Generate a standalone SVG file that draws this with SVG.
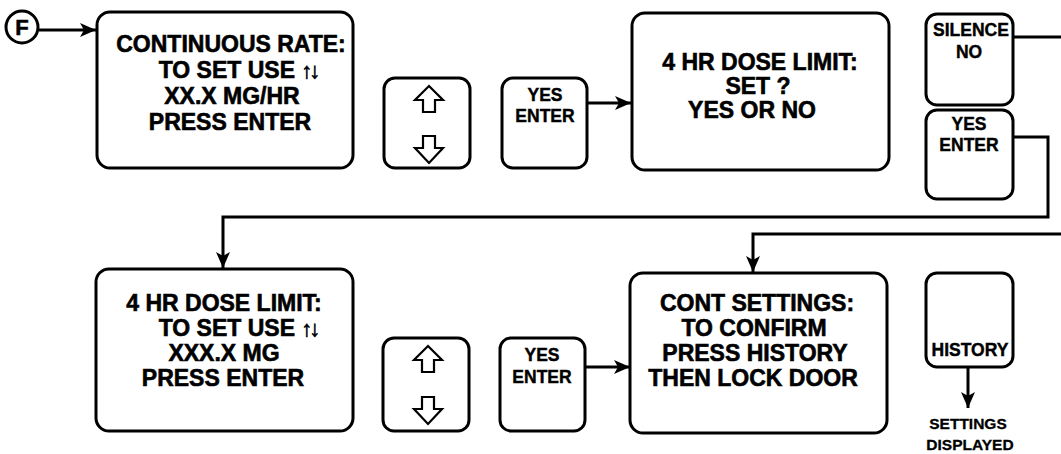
<svg xmlns="http://www.w3.org/2000/svg" width="1061" height="454" viewBox="0 0 1061 454">
<style>
.box{fill:none;stroke:#000;stroke-width:3}
.ln{fill:none;stroke:#000;stroke-width:3}
.t{font-family:"Liberation Sans",Arial,sans-serif;font-weight:bold;font-size:23px;fill:#000;stroke:#000;stroke-width:0.6;text-anchor:middle}
.b{font-family:"Liberation Sans",Arial,sans-serif;font-weight:bold;font-size:17.5px;fill:#000;stroke:#000;stroke-width:0.4;text-anchor:middle}
.s{font-family:"Liberation Sans",Arial,sans-serif;font-weight:bold;font-size:15.5px;fill:#000;stroke:#000;stroke-width:0.3;text-anchor:middle}
.ar{font-size:22px;letter-spacing:-3px}
.key{fill:#fff;stroke:#000;stroke-width:2.2}
</style>
<defs>
<marker id="ah" viewBox="0 0 16 14" refX="16" refY="7" markerWidth="16" markerHeight="14" markerUnits="userSpaceOnUse" orient="auto">
<path d="M0,0 L16,7 L0,14 L4,7 Z" fill="#000"/>
</marker>
</defs>
<rect width="1061" height="454" fill="#fff"/>

<g id="start">
<circle cx="22" cy="27" r="16" fill="none" stroke="#000" stroke-width="3"/>
<text class="t" x="22" y="35" style="font-size:22px">F</text>
</g>

<g id="connectors">
<line class="ln" x1="39" y1="30" x2="96" y2="30" marker-end="url(#ah)"/>
<line class="ln" x1="587" y1="103" x2="631" y2="103" marker-end="url(#ah)"/>
<line class="ln" x1="1013" y1="37" x2="1061" y2="37"/>
<polyline class="ln" points="1013,137 1048,137 1048,217 223,217 223,268" marker-end="url(#ah)"/>
<polyline class="ln" points="1061,234 753,234 753,272" marker-end="url(#ah)"/>
<line class="ln" x1="585" y1="367" x2="630" y2="367" marker-end="url(#ah)"/>
<line class="ln" x1="968" y1="367" x2="968" y2="408" marker-end="url(#ah)"/>
</g>

<g id="cont-rate">
<rect class="box" x="97" y="12" width="256" height="156" rx="13"/>
<text class="t" x="231" y="52">CONTINUOUS RATE:</text>
<text class="t" x="238" y="78">TO SET USE <tspan class="ar">↑↓</tspan></text>
<text class="t" x="232" y="104">XX.X MG/HR</text>
<text class="t" x="230" y="130">PRESS ENTER</text>
</g>

<g id="updown-1">
<rect class="box" x="384" y="78" width="86" height="90" rx="11"/>
<path class="key" d="M429,86 L443,100 L435,100 L435,112 L423,112 L423,100 L415,100 Z"/>
<path class="key" d="M423,136 L435,136 L435,148 L443,148 L429,163 L415,148 L423,148 Z"/>
</g>

<g id="yes-enter-1">
<rect class="box" x="502" y="78" width="85" height="90" rx="11"/>
<text class="b" x="545" y="101">YES</text>
<text class="b" x="545" y="122">ENTER</text>
</g>

<g id="dose-set">
<rect class="box" x="632" y="13" width="257" height="157" rx="13"/>
<text class="t" x="760" y="70">4 HR DOSE LIMIT:</text>
<text class="t" x="758" y="94">SET ?</text>
<text class="t" x="752" y="118">YES OR NO</text>
</g>

<g id="silence-no">
<rect class="box" x="926" y="14" width="87" height="91" rx="11"/>
<text class="b" x="971" y="36">SILENCE</text>
<text class="b" x="969" y="58">NO</text>
</g>

<g id="yes-enter-r">
<rect class="box" x="926" y="110" width="87" height="89" rx="11"/>
<text class="b" x="969" y="130">YES</text>
<text class="b" x="969" y="151">ENTER</text>
</g>

<g id="dose-input">
<rect class="box" x="96" y="269" width="257" height="162" rx="13"/>
<text class="t" x="224" y="311">4 HR DOSE LIMIT:</text>
<text class="t" x="238" y="336">TO SET USE <tspan class="ar">↑↓</tspan></text>
<text class="t" x="224" y="361">XXX.X MG</text>
<text class="t" x="223" y="386">PRESS ENTER</text>
</g>

<g id="updown-2">
<rect class="box" x="383" y="338" width="86" height="93" rx="11"/>
<path class="key" d="M428,346 L442,360 L434,360 L434,372 L422,372 L422,360 L414,360 Z"/>
<path class="key" d="M422,397 L434,397 L434,409 L442,409 L428,424 L414,409 L422,409 Z"/>
</g>

<g id="yes-enter-2">
<rect class="box" x="500" y="338" width="85" height="93" rx="11"/>
<text class="b" x="542" y="361">YES</text>
<text class="b" x="542" y="383">ENTER</text>
</g>

<g id="cont-settings">
<rect class="box" x="630" y="273" width="257" height="160" rx="13"/>
<text class="t" x="757" y="311">CONT SETTINGS:</text>
<text class="t" x="754" y="336">TO CONFIRM</text>
<text class="t" x="755" y="361">PRESS HISTORY</text>
<text class="t" x="753" y="386">THEN LOCK DOOR</text>
</g>

<g id="history">
<rect class="box" x="926" y="273" width="87" height="94" rx="11"/>
<text class="b" x="970" y="356">HISTORY</text>
</g>

<g id="settings-displayed">
<text class="s" x="968" y="429">SETTINGS</text>
<text class="s" x="970" y="450">DISPLAYED</text>
</g>
</svg>
